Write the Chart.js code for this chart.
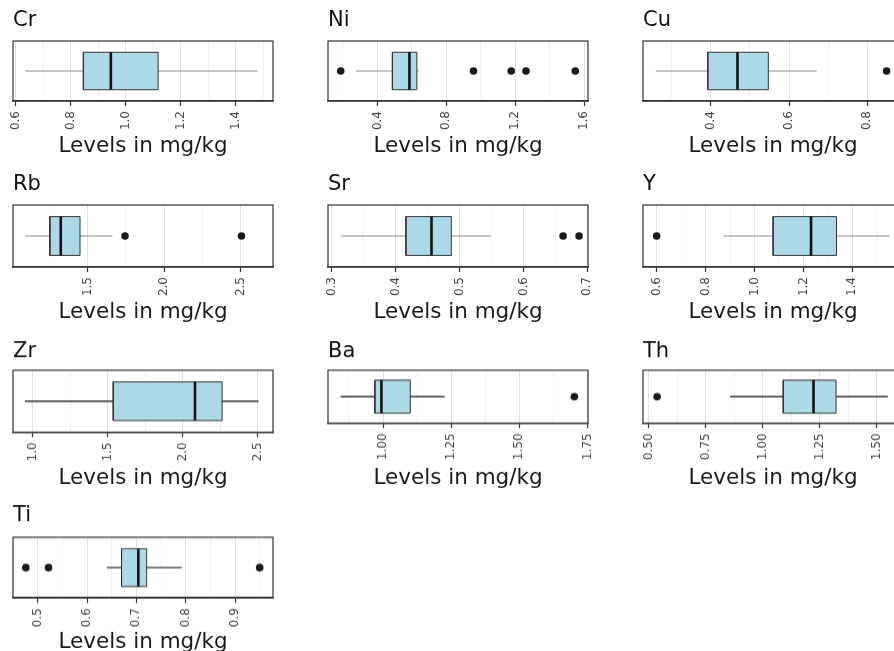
<!DOCTYPE html>
<html>
<head>
<meta charset="utf-8">
<title>Levels in mg/kg</title>
<script src="https://cdn.jsdelivr.net/npm/chart.js@4.4.1/dist/chart.umd.min.js"></script>
<style>
  html, body { margin: 0; padding: 0; background: #ffffff; overflow: hidden; width: 894px; height: 651px; }
  .panel { position: absolute; }
</style>
</head>
<body>
<script>
// Element names, one box plot each
const elements = ['Cr', 'Ni', 'Cu', 'Rb', 'Sr', 'Y', 'Zr', 'Ba', 'Th', 'Ti'];

// Five-number summaries (mg/kg)
const whiskerLow  = [0.634, 0.276, 0.259, 1.090, 0.314, 0.873, 0.949, 0.844, 0.857, 0.640];
const q1          = [0.846, 0.487, 0.392, 1.253, 0.416, 1.076, 1.537, 0.970, 1.090, 0.670];
const median      = [0.946, 0.586, 0.468, 1.324, 0.456, 1.231, 2.082, 0.994, 1.223, 0.704];
const q3          = [1.118, 0.629, 0.547, 1.450, 0.487, 1.335, 2.263, 1.100, 1.322, 0.721];
const whiskerHigh = [1.481, 0.638, 0.671, 1.661, 0.549, 1.553, 2.505, 1.226, 1.549, 0.792];

// Points beyond the whiskers
const outliers = [
  [],
  [0.187, 0.958, 1.177, 1.263, 1.549],
  [0.850],
  [1.744, 2.505],
  [0.662, 0.687],
  [0.600],
  [],
  [1.702],
  [0.536],
  [0.476, 0.522, 0.950]
];

// Axis ranges
const axisMin = [0.590, 0.113, 0.226, 1.012, 0.294, 0.544, 0.869, 0.798, 0.474, 0.450];
const axisMax = [1.536, 1.623, 0.892, 2.711, 0.701, 1.607, 2.602, 1.752, 1.616, 0.977];

// Labelled (major) ticks and their text
const majorTicks = [
  [0.6, 0.8, 1.0, 1.2, 1.4],
  [0.4, 0.8, 1.2, 1.6],
  [0.4, 0.6, 0.8],
  [1.5, 2.0, 2.5],
  [0.3, 0.4, 0.5, 0.6, 0.7],
  [0.6, 0.8, 1.0, 1.2, 1.4, 1.6],
  [1.0, 1.5, 2.0, 2.5],
  [1.00, 1.25, 1.50, 1.75],
  [0.50, 0.75, 1.00, 1.25, 1.50],
  [0.5, 0.6, 0.7, 0.8, 0.9]
];
const tickLabels = [
  ['0.6', '0.8', '1.0', '1.2', '1.4'],
  ['0.4', '0.8', '1.2', '1.6'],
  ['0.4', '0.6', '0.8'],
  ['1.5', '2.0', '2.5'],
  ['0.3', '0.4', '0.5', '0.6', '0.7'],
  ['0.6', '0.8', '1.0', '1.2', '1.4', '1.6'],
  ['1.0', '1.5', '2.0', '2.5'],
  ['1.00', '1.25', '1.50', '1.75'],
  ['0.50', '0.75', '1.00', '1.25', '1.50'],
  ['0.5', '0.6', '0.7', '0.8', '0.9']
];

const axisTitle = 'Levels in mg/kg';

// ---- page layout (pixels) ----
const colLeft = [13, 328, 643];
const panelWidth = 260;
const rowTop = [41, 205, 370, 537];
const panelBottom = [101, 101, 101, 267, 267, 267, 432, 423, 423, 598];
const titleCenter = [20.5, 185, 351.7, 515.8];
const axisTitleCenter = [146, 312, 477.5, 641.7];

// ---- styling ----
const boxFill = '#ADD8E6';
const darkLine = '#333333';
const whiskerColor = ['#8c8c8c', '#8c8c8c', '#8c8c8c', '#8c8c8c', '#8c8c8c', '#8c8c8c',
                      '#333333', '#333333', '#333333', '#333333'];
const FONT = 'DejaVu Sans';

Chart.defaults.font.family = FONT;

// Panel border drawn around the plotting area
const panelFrame = {
  id: 'panelFrame',
  afterDraw(chart) {
    const { ctx, chartArea: a } = chart;
    ctx.save();
    ctx.strokeStyle = darkLine;
    ctx.lineWidth = 1.2;
    ctx.strokeRect(a.left, a.top, a.right - a.left, a.bottom - a.top);
    ctx.restore();
  }
};

const key = v => v.toFixed(4);

function buildPanel(i) {
  const r = Math.floor(i / 3), c = i % 3;
  const padL = 10, padR = 4;
  const left = colLeft[c] - padL;
  const width = padL + panelWidth + padR;
  const top = rowTop[r] - 40;
  const bottom = axisTitleCenter[r] + 14;
  const height = bottom - top;
  const titleSize = 21, titleLH = titleSize * 1.2;
  const padTop = titleCenter[r] - top - titleLH / 2;
  const titlePadBottom = (rowTop[r] - top) - padTop - titleLH;
  const xScaleHeight = bottom - panelBottom[i];
  const axisTitleSize = 21.5;

  const canvas = document.createElement('canvas');
  canvas.className = 'panel';
  canvas.width = width;
  canvas.height = height;
  canvas.style.left = left + 'px';
  canvas.style.top = top + 'px';
  canvas.style.width = width + 'px';
  canvas.style.height = height + 'px';
  document.body.appendChild(canvas);

  // major ticks carry labels, minor ticks sit halfway between them
  const majors = majorTicks[i];
  const labelMap = new Map(majors.map((v, k) => [key(v), tickLabels[i][k]]));
  const step = majors.length > 1 ? majors[1] - majors[0] : 0.1;
  const tickVals = [];
  for (let k = -1; k <= majors.length; k++) {
    const m = majors[0] + k * step;
    [m, m + step / 2].forEach(v => {
      if (v >= axisMin[i] - 1e-9 && v <= axisMax[i] + 1e-9) tickVals.push(v);
    });
  }
  tickVals.sort((a, b) => a - b);
  const isMajor = v => labelMap.has(key(v));

  const lo = 0.625, hi = 1.375, mid = 1;

  const datasets = [
    {
      type: 'scatter',
      data: outliers[i].map(v => ({ x: v, y: mid })),
      pointRadius: 3.8,
      pointBackgroundColor: '#1a1a1a',
      pointBorderColor: '#1a1a1a',
      pointBorderWidth: 0,
      order: 0
    },
    {
      type: 'line',
      data: [{ x: median[i], y: lo }, { x: median[i], y: hi }],
      borderColor: '#111111',
      borderWidth: 2.6,
      pointRadius: 0,
      fill: false,
      order: 1
    },
    {
      type: 'line',
      data: [
        { x: q1[i], y: lo }, { x: q3[i], y: lo }, { x: q3[i], y: hi },
        { x: q1[i], y: hi }, { x: q1[i], y: lo }
      ],
      borderColor: darkLine,
      borderWidth: 1,
      pointRadius: 0,
      fill: false,
      order: 2
    },
    {
      type: 'line',
      data: [{ x: q1[i], y: hi }, { x: q3[i], y: hi }],
      borderWidth: 0,
      borderColor: 'rgba(0,0,0,0)',
      backgroundColor: boxFill,
      pointRadius: 0,
      fill: { value: lo },
      order: 3
    },
    {
      type: 'line',
      data: [{ x: whiskerLow[i], y: mid }, { x: whiskerHigh[i], y: mid }],
      borderColor: whiskerColor[i],
      borderWidth: i >= 6 ? 1.3 : 1,
      pointRadius: 0,
      fill: false,
      order: 4
    }
  ];

  new Chart(canvas, {
    type: 'scatter',
    data: { datasets },
    plugins: [panelFrame],
    options: {
      responsive: false,
      animation: false,
      devicePixelRatio: 1,
      events: [],
      layout: { padding: { top: padTop, left: padL, right: padR, bottom: 0 } },
      plugins: {
        legend: { display: false },
        tooltip: { enabled: false },
        title: {
          display: true,
          text: elements[i],
          align: 'start',
          fullSize: false,
          color: '#111111',
          font: { family: FONT, size: titleSize, weight: 'normal', lineHeight: 1.2 },
          padding: { top: 0, bottom: titlePadBottom }
        }
      },
      scales: {
        x: {
          type: 'linear',
          min: axisMin[i],
          max: axisMax[i],
          afterBuildTicks(scale) {
            scale.ticks = tickVals.map(v => ({ value: v }));
          },
          afterFit(scale) {
            scale.height = xScaleHeight;
            scale.paddingLeft = 0;
            scale.paddingRight = 0;
          },
          ticks: {
            autoSkip: false,
            minRotation: 90,
            maxRotation: 90,
            padding: 5,
            color: '#444444',
            font: { family: FONT, size: 12 },
            callback: v => labelMap.get(key(v)) || ''
          },
          grid: {
            drawOnChartArea: true,
            drawTicks: true,
            tickLength: 5,
            color: ctx => (ctx.tick && isMajor(ctx.tick.value)) ? '#e2e2e2' : '#ececec',
            lineWidth: ctx => (ctx.tick && isMajor(ctx.tick.value)) ? 1 : 0.8,
            tickColor: ctx => (ctx.tick && isMajor(ctx.tick.value)) ? darkLine : 'rgba(0,0,0,0)',
            tickWidth: 1.2
          },
          border: { display: true, color: darkLine, width: 1.6 },
          title: {
            display: true,
            text: axisTitle,
            color: '#1a1a1a',
            font: { family: FONT, size: axisTitleSize, lineHeight: 1.2 },
            padding: { top: 0, bottom: 14 - axisTitleSize * 0.6 }
          }
        },
        y: {
          type: 'linear',
          display: false,
          min: 0.4,
          max: 1.6
        }
      }
    }
  });
}

elements.forEach((_, i) => buildPanel(i));
</script>
</body>
</html>
